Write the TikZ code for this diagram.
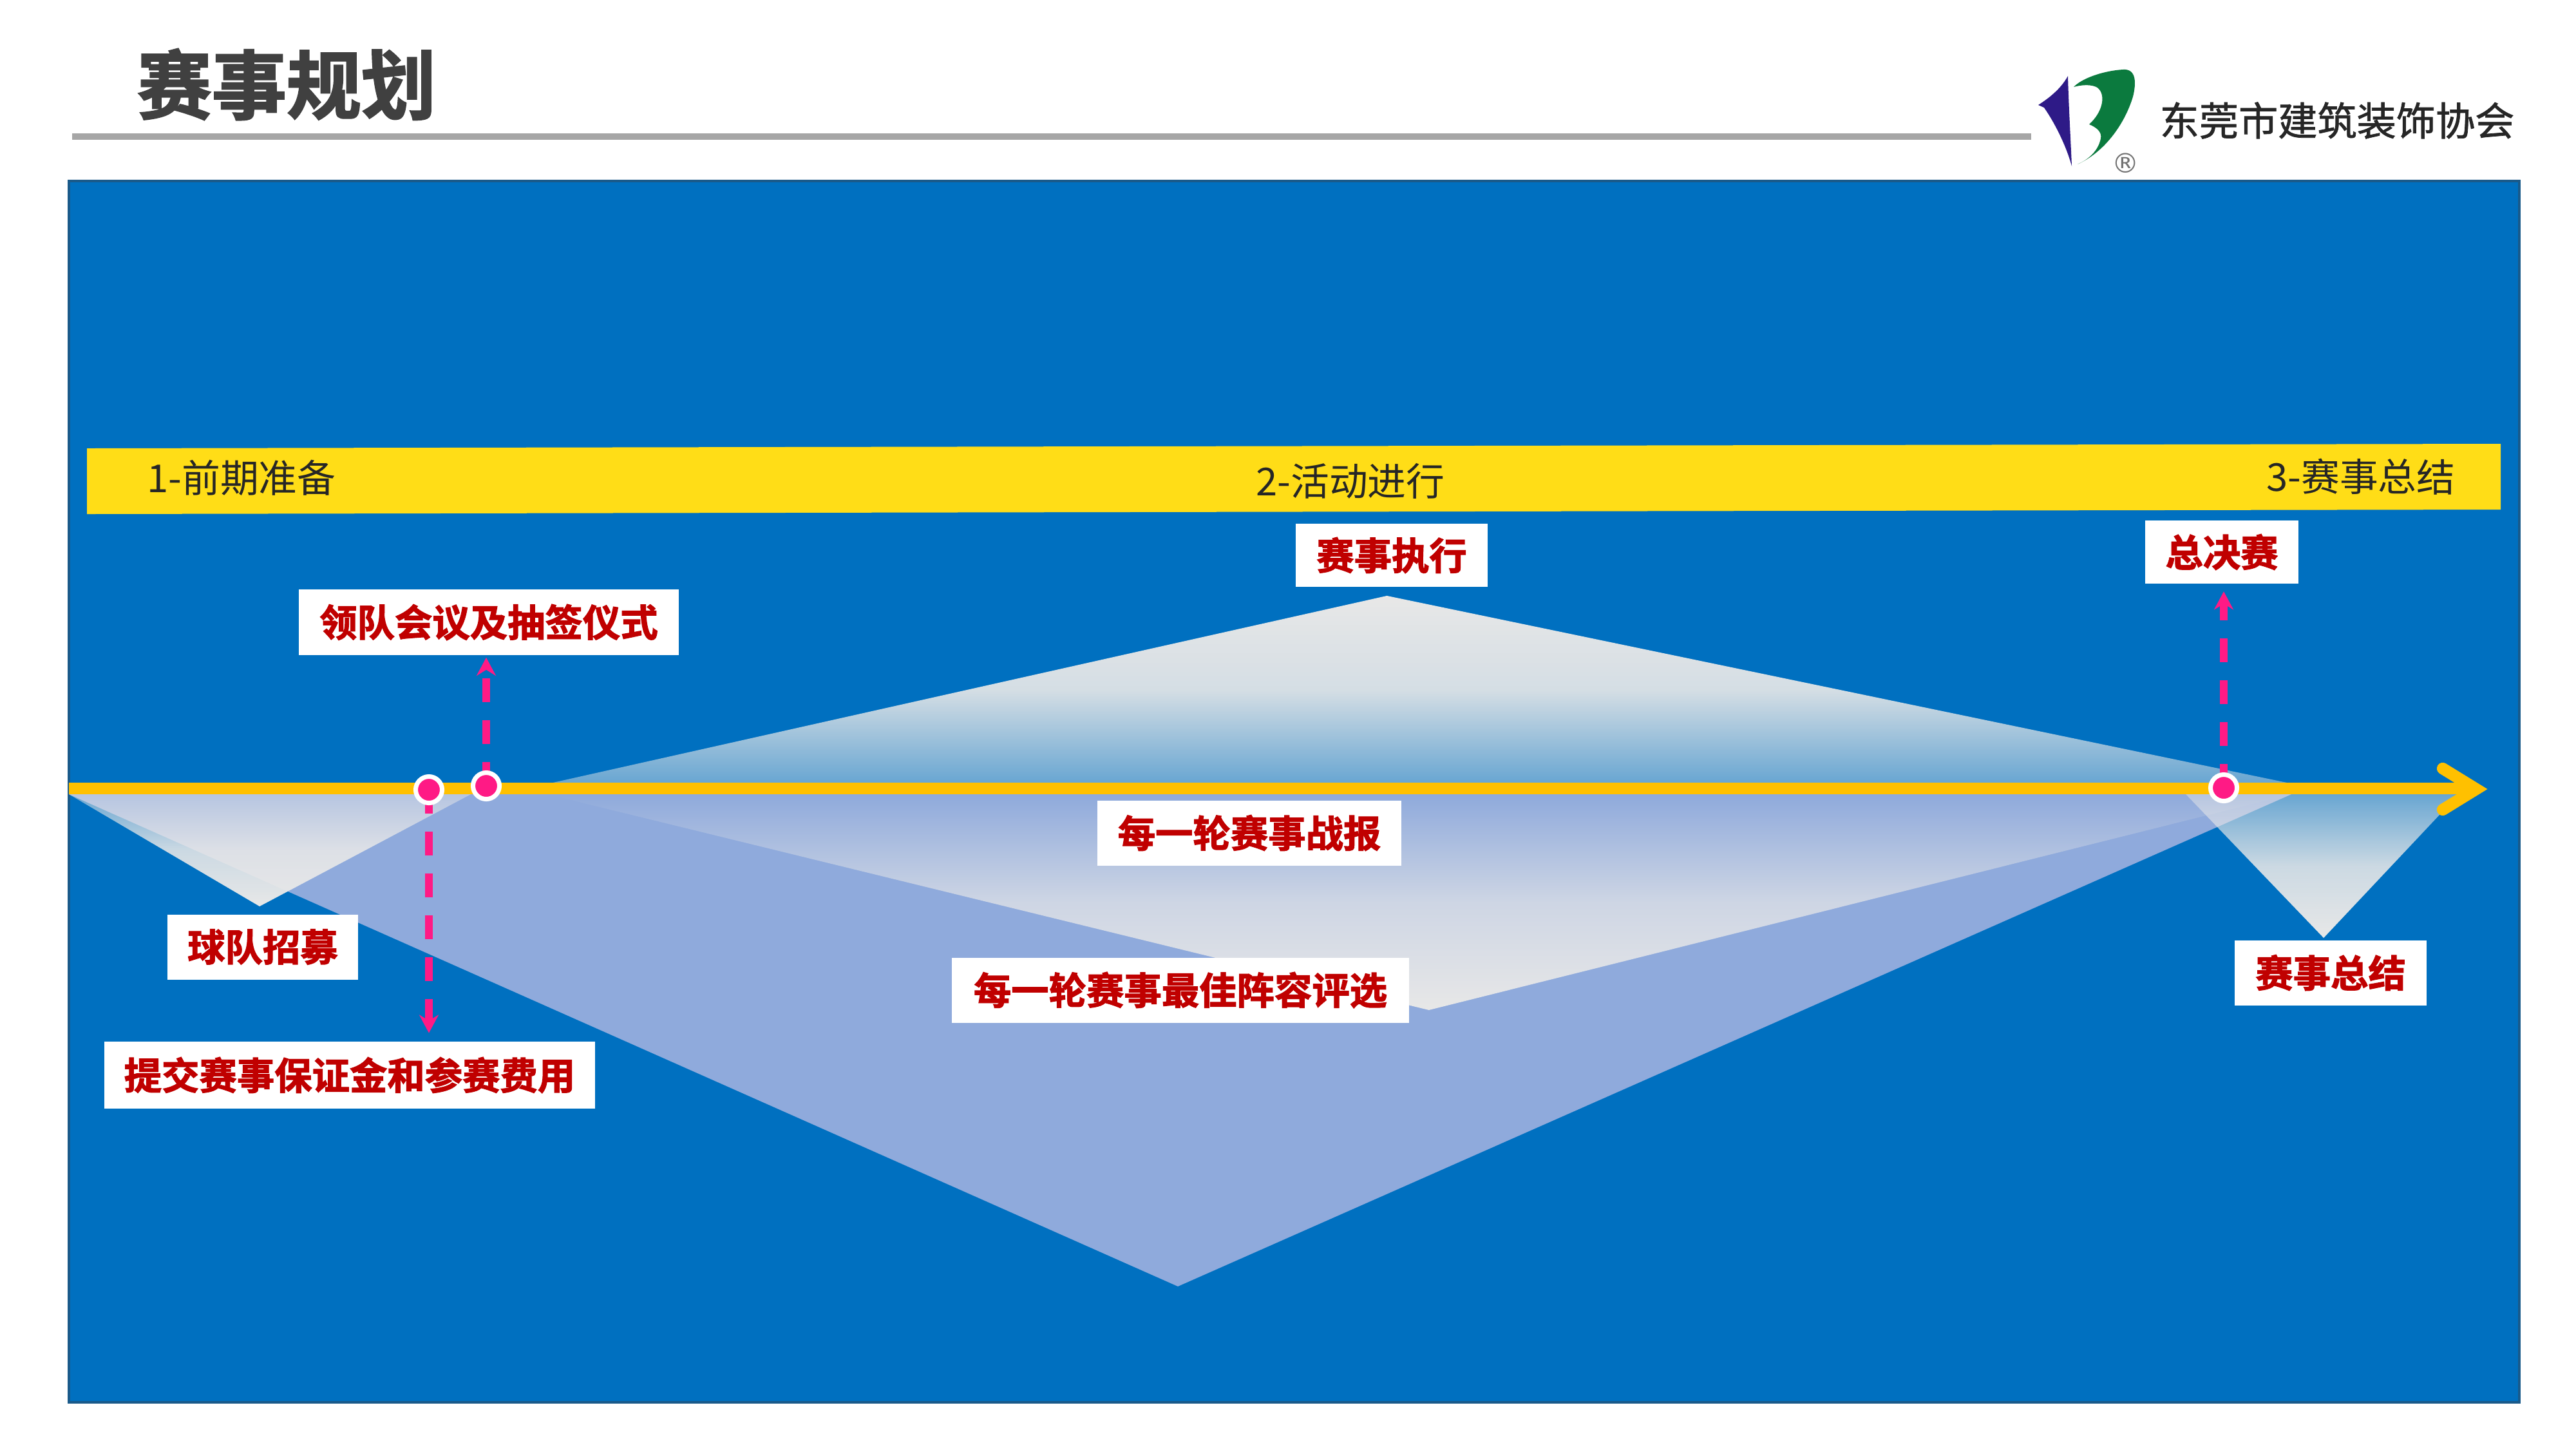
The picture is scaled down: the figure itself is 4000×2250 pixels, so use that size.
\documentclass[tikz,border=0pt]{standalone}
\usepackage{fontspec}
\usetikzlibrary{arrows.meta,fadings,calc}
\setmainfont{Noto Sans CJK SC}
\newfontfamily\cjkreg{Noto Sans CJK SC}
\newfontfamily\cjklogo{Noto Sans CJK SC}[AutoFakeBold=1.2]
\newfontfamily\cjkbold{Noto Sans CJK SC}[UprightFont=* Bold,AutoFakeBold=2,BoldFont=* Bold]
\newfontfamily\cjktitle{Noto Sans CJK SC}[UprightFont=* Bold,AutoFakeBold=2,BoldFont=* Bold]
\newfontfamily\symfont{DejaVu Sans}
\definecolor{panelblue}{HTML}{0070C0}
\definecolor{paneledge}{HTML}{1A5A8A}
\definecolor{lightblue}{HTML}{8FAADC}
\definecolor{softgray}{HTML}{E8E8E8}
\definecolor{barYellow}{HTML}{FFDD17}
\definecolor{axisGold}{HTML}{FFC000}
\definecolor{hotpink}{HTML}{FF1A85}
\definecolor{labelred}{HTML}{C00000}
\definecolor{titlegray}{HTML}{404040}
\definecolor{rulegray}{HTML}{A6A6A6}
\definecolor{logopurple}{HTML}{2E1A87}
\definecolor{logogreen}{HTML}{0B7A3E}
\tikzfading[name=fadeup,top color=transparent!0,bottom color=transparent!55,middle color=transparent!8]
\tikzfading[name=fadedown,top color=transparent!55,bottom color=transparent!0,middle color=transparent!12]
\tikzfading[name=fadedownmid,top color=transparent!100,bottom color=transparent!0,middle color=transparent!29]
\pgfdeclarelayer{connectors}
\pgfdeclarelayer{top}
\pgfsetlayers{main,connectors,top}
\tikzset{
  lab/.style={fill=white,text=labelred,inner sep=0pt,minimum height=1.01cm,font=\cjkbold\bfseries\fontsize{16.6pt}{20pt}\selectfont},
  phase/.style={text=black!85,inner sep=0pt,rotate=-0.15,font=\cjkreg\fontsize{17pt}{20pt}\selectfont},
  dot/.style={circle,fill=hotpink,draw=white,line width=2pt,minimum size=0.41cm,inner sep=0pt},
  dashconn/.style={draw=hotpink,line width=3.3pt,dash pattern=on 10.5pt off 8pt,-{Stealth[length=8pt,width=8.5pt]}},
  axisline/.style={draw=axisGold,line width=5.2pt}
}
\begin{document}
\begin{tikzpicture}[x=0.01cm,y=-0.01cm]
\useasboundingbox (0,0) rectangle (4000,2250);
\fill[white] (0,0) rectangle (4000,2250);
% header
\node[text=titlegray,inner sep=0pt,font=\cjktitle\bfseries\fontsize{33pt}{38pt}\selectfont] (title) at (445,131) {赛事规划};
\fill[rulegray] (112,207) rectangle (3154,217);
% logo
\fill[logopurple] (3211,118) .. controls (3200,138) and (3182,152) .. (3165,163) -- (3174,167) .. controls (3190,190) and (3208,225) .. (3217,258) .. controls (3215,210) and (3212,160) .. cycle;
\fill[logogreen] (3296,108) .. controls (3265,110) and (3232,122) .. (3220,135) .. controls (3238,130) and (3254,132) .. (3259,138) .. controls (3270,150) and (3264,175) .. (3244,193) .. controls (3256,198) and (3264,205) .. (3262,215) .. controls (3258,235) and (3242,248) .. (3226,255) .. controls (3270,235) and (3300,190) .. (3312,150) .. controls (3317,130) and (3318,106) .. cycle;
\node[text=black!55,inner sep=0pt,font=\symfont\fontsize{12pt}{14pt}\selectfont] (reg) at (3301,253) {®};
\node[text=black!85,inner sep=0pt,font=\cjklogo\bfseries\fontsize{17.4pt}{20pt}\selectfont] (assoc) at (3629,187) {东莞市建筑装饰协会};
% panel
\fill[panelblue,draw=paneledge,line width=1pt] (107,281) rectangle (3912,2177);
% yellow bar
\fill[barYellow] (135,696) -- (3883,689) -- (3883,791) -- (135,798) -- cycle;
\node[phase] (p1) at (375,742) {1-前期准备};
\node[phase] (p2) at (2097,747) {2-活动进行};
\node[phase] (p3) at (3666,740) {3-赛事总结};
% triangles
\fill[lightblue] (107,1233) -- (3558,1233) -- (1829,1997) -- cycle;
\fill[softgray,path fading=fadeup] (2155,925) -- (3558,1216) -- (855,1216) -- cycle;
\fill[softgray,path fading=fadedownmid] (850,1233) -- (3558,1233) -- (2219,1568) -- cycle;
\fill[softgray,path fading=fadedown] (107,1233) -- (731,1233) -- (403,1407) -- cycle;
\fill[softgray,path fading=fadedown] (3394,1233) -- (3818,1233) -- (3608,1456) -- cycle;
% axis
\coordinate (axisstart) at (107,1224);
\coordinate (axisend) at (3840,1224);
\coordinate (barbtop) at (3793,1193);
\coordinate (barbtip) at (3845,1225);
\coordinate (barbbot) at (3793,1257);
\draw[axisline] (axisstart) -- (axisend);
\draw[axisline,line cap=round,line join=miter,miter limit=10] (barbtop) -- (barbtip) -- (barbbot);
% labels
\node[lab,minimum width=5.90cm] (lead) at (759,966) {领队会议及抽签仪式};
\node[lab,minimum width=2.95cm] (recruit) at (408,1470) {球队招募};
\node[lab,minimum width=7.61cm,minimum height=1.04cm] (deposit) at (543,1669) {提交赛事保证金和参赛费用};
\node[lab,minimum width=2.97cm,minimum height=0.97cm] (exec) at (2161,862) {赛事执行};
\node[lab,minimum width=2.38cm,minimum height=0.97cm] (final) at (3450,857) {总决赛};
\node[lab,minimum width=4.72cm] (report) at (1940,1293) {每一轮赛事战报};
\node[lab,minimum width=7.09cm] (best) at (1833,1537) {每一轮赛事最佳阵容评选};
\node[lab,minimum width=2.97cm] (summary) at (3619,1510) {赛事总结};
% dots and connectors
\begin{pgfonlayer}{top}
\node[dot] (d1) at (666,1226) {};
\node[dot] (d2) at (755,1220) {};
\node[dot] (d3) at (3453,1223) {};
\end{pgfonlayer}
\begin{pgfonlayer}{connectors}
\draw[dashconn,shorten >=3.6pt] (d1.center) -- (d1 |- deposit.north);
\draw[dashconn,shorten >=1pt] (d2.center) -- (d2 |- lead.south);
\draw[dashconn,shorten >=3.4pt] (d3.center) -- (d3 |- final.south);
\end{pgfonlayer}
\end{tikzpicture}
\end{document}
